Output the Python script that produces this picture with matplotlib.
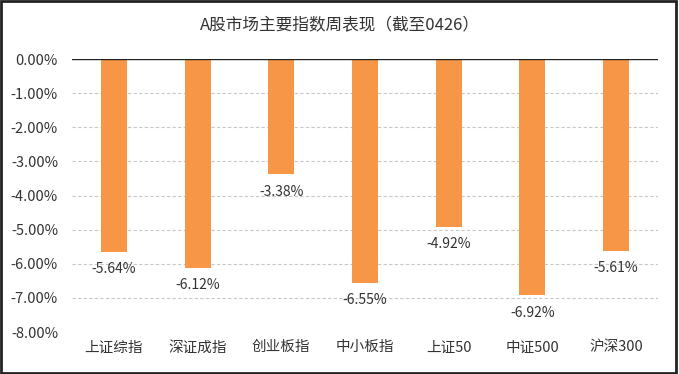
import matplotlib.pyplot as plt
from matplotlib.patches import Rectangle
from matplotlib.ticker import FuncFormatter

plt.rcParams['font.family'] = ['Noto Sans CJK SC', 'DejaVu Sans']

# index names and weekly change (%)
names = ['上证综指', '深证成指', '创业板指', '中小板指', '上证50', '中证500', '沪深300']
changes = [-5.64, -6.12, -3.38, -6.55, -4.92, -6.92, -5.61]
title = 'A股市场主要指数周表现（截至0426）'

fig = plt.figure(figsize=(6.79, 3.74), dpi=100)
ax = fig.add_axes([0.106, 0.112, 0.863, 0.730])

x = range(len(names))
ax.bar(x, changes, width=0.31, color='#F79646', zorder=2)

for i, v in zip(x, changes):
    ax.annotate('%.2f%%' % v, (i, v), xytext=(0, -7.5), textcoords='offset points',
                ha='center', va='top', fontsize=10, color='#333333')

ax.set_ylim(-8, 0)
ax.set_xlim(-0.5, len(names) - 0.5)
ax.set_yticks(range(-8, 1))
ax.yaxis.set_major_formatter(FuncFormatter(lambda v, p: '%.2f%%' % v))
ax.set_xticks(list(x))
ax.set_xticklabels(names)
ax.tick_params(axis='both', length=0, labelsize=10.5, colors='#333333')
ax.tick_params(axis='x', pad=6)
ax.tick_params(axis='y', pad=10)

ax.yaxis.grid(True, linestyle=(0, (3, 2)), color='#c8c8c8', linewidth=0.8, zorder=0)
for s in ax.spines.values():
    s.set_visible(False)
ax.axhline(0, color='#222222', linewidth=1, zorder=3)

fig.text(0.5, 0.932, title, ha='center', va='center', fontsize=12, color='#333333')

fig.patches.append(Rectangle((0.002, 0.003), 0.994, 0.993, transform=fig.transFigure,
                             fill=False, edgecolor='#222222', linewidth=2))

fig.savefig('out.png', dpi=100)
